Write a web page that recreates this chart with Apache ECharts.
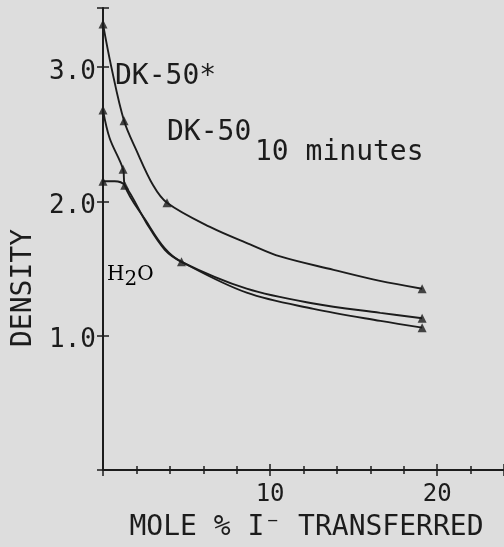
<!DOCTYPE html>
<html>
<head>
<meta charset="utf-8">
<script src="https://cdn.jsdelivr.net/npm/echarts@6/dist/echarts.min.js"></script>
<style>
html,body{margin:0;padding:0;background:#dddddd;}
#c{width:504px;height:547px;}
</style>
</head>
<body>
<div id="c"></div>
<script>
// Tick labels
var xTickLabels = [10, 20];
var yTickLabels = ['1.0', '2.0', '3.0'];

// Curves [mole % I-, density]
var dk50StarCurve = [[0,3.32],[0.5,3.0],[1.26,2.60],[2.0,2.38],[3.0,2.12],[3.83,1.99],[6.4,1.81],[8.8,1.68],[10.6,1.59],[13.8,1.49],[16.5,1.41],[19.1,1.35]];
var dk50TenCurve  = [[0,2.68],[0.4,2.47],[1.2,2.24],[1.3,2.12],[2.6,1.85],[3.7,1.65],[4.7,1.55],[8.6,1.35],[12.6,1.24],[16.6,1.17],[19.1,1.13]];
var h2oCurve      = [[0,2.15],[0.7,2.15],[1.3,2.12],[2.6,1.84],[3.7,1.64],[4.7,1.55],[8.6,1.32],[12.6,1.20],[16.6,1.11],[19.1,1.06]];

// Measured points (triangles)
var dk50StarPts = [[0,3.32],[1.26,2.60],[3.83,1.99],[19.1,1.35]];
var dk50TenPts  = [[0,2.68],[1.2,2.24],[4.7,1.55],[19.1,1.13]];
var h2oPts      = [[0,2.15],[1.3,2.12],[19.1,1.06]];

var FONT = 'DejaVu Sans Mono';
var INK = '#1c1c1c';

var chart = echarts.init(document.getElementById('c'), null, {renderer: 'canvas'});

function lineSeries(name, data) {
  return {name: name, type: 'line', data: data, smooth: 0.35, showSymbol: false,
    symbol: 'none', lineStyle: {color: INK, width: 1.9}, z: 3, silent: true};
}
function ptSeries(name, data) {
  return {name: name, type: 'scatter', data: data, symbol: 'triangle', symbolSize: 9,
    itemStyle: {color: INK}, z: 4, silent: true};
}

var xBase = {type: 'value', min: 0, max: 24, interval: 10,
  axisLine: {show: true, onZero: false, lineStyle: {color: INK, width: 2}},
  splitLine: {show: false}};
var yBase = {type: 'value', min: 0, max: 3.44, interval: 1,
  axisLine: {show: true, onZero: false, lineStyle: {color: INK, width: 2}},
  splitLine: {show: false}};

chart.setOption({
  backgroundColor: '#dddddd',
  animation: false,
  grid: {left: 103, right: 0, top: 8, bottom: 71, containLabel: false},
  xAxis: [
    Object.assign({}, xBase, {
      position: 'bottom',
      axisTick: {show: true, length: 6, lineStyle: {color: INK, width: 1.5}},
      minorTick: {show: true, splitNumber: 5, length: 4, lineStyle: {color: INK, width: 1.5}},
      axisLabel: {show: true, margin: 13, fontFamily: FONT, fontSize: 24, color: INK,
        showMaxLabel: false, showMinLabel: false,
        formatter: function (v) { return xTickLabels.indexOf(v) >= 0 ? String(v) : ''; }},
      name: 'MOLE % I\u207B TRANSFERRED', nameLocation: 'middle', nameGap: 44,
      nameTextStyle: {fontFamily: FONT, fontSize: 28, color: INK, padding: [0,0,0,6]}
    }),
    Object.assign({}, xBase, {
      position: 'bottom', gridIndex: 0,
      axisLine: {show: false},
      axisTick: {show: true, inside: true, length: 6, lineStyle: {color: INK, width: 1.5}},
      minorTick: {show: true, splitNumber: 5, length: 4, lineStyle: {color: INK, width: 1.5}},
      axisLabel: {show: false}
    })
  ],
  yAxis: [
    Object.assign({}, yBase, {
      position: 'left',
      axisTick: {show: true, length: 6, lineStyle: {color: INK, width: 1.5}},
      axisLabel: {show: true, margin: 7, color: INK,
        rich: {t: {fontFamily: FONT, fontSize: 26, color: INK, padding: [10, 0, 0, 0]}},
        formatter: function (v) { var s = v.toFixed(1); return yTickLabels.indexOf(s) >= 0 ? '{t|' + s + '}' : ''; }}
    }),
    Object.assign({}, yBase, {
      position: 'left',
      axisLine: {show: false},
      axisTick: {show: true, inside: true, length: 6, lineStyle: {color: INK, width: 1.5}},
      axisLabel: {show: false}
    })
  ],
  series: [
    lineSeries('DK-50*', dk50StarCurve),
    lineSeries('DK-50 10 minutes', dk50TenCurve),
    lineSeries('H2O', h2oCurve),
    ptSeries('DK-50* pts', dk50StarPts),
    ptSeries('DK-50 10 minutes pts', dk50TenPts),
    ptSeries('H2O pts', h2oPts)
  ],
  graphic: [
    {type: 'text', left: 115, top: 63, style: {text: 'DK-50*', font: '28px ' + FONT, fill: INK}},
    {type: 'text', left: 167, top: 119, style: {text: 'DK-50', font: '28px ' + FONT, fill: INK}},
    {type: 'text', left: 255, top: 139, style: {text: '10 minutes', font: '28px ' + FONT, fill: INK}},
    {type: 'text', left: 107, top: 265, style: {
      text: '{a|H}{b|2}{a|O}',
      rich: {a: {fontFamily: 'DejaVu Serif', fontSize: 20, color: INK},
             b: {fontFamily: 'DejaVu Serif', fontSize: 20, color: INK, padding: [10,0,0,0]}}
    }},
    {type: 'text', x: 24, y: 288, rotation: Math.PI / 2,
      style: {text: 'DENSITY', font: '28px ' + FONT, fill: INK, align: 'center', verticalAlign: 'middle'}}
  ]
});
</script>
</body>
</html>
